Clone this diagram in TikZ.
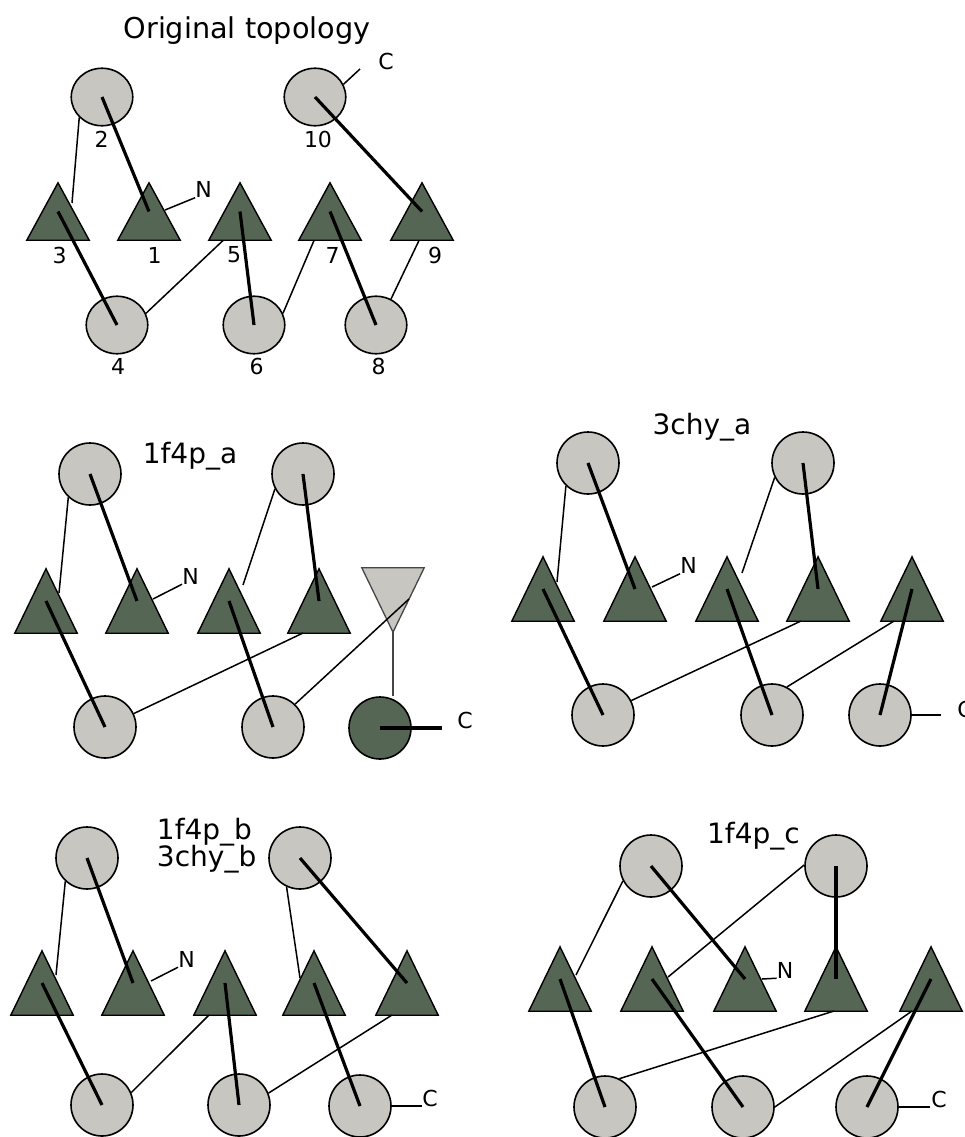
\documentclass[tikz,border=0pt]{standalone}
\usepackage{fontspec}
\setmainfont{DejaVu Sans}
\usetikzlibrary{shapes.geometric,calc}
\definecolor{tgreen}{RGB}{85,102,84}
\definecolor{cgray}{RGB}{200,198,192}
\definecolor{dgray}{RGB}{70,70,70}
\begin{document}
\begin{tikzpicture}[x=1pt,y=-1pt,
  cir/.style={circle,draw=black,fill=cgray,line width=1.6,minimum size=62,inner sep=0},
  ecir/.style={ellipse,draw=black,fill=cgray,line width=1.6,minimum width=61.5,minimum height=57.5,inner sep=0},
  dcir/.style={cir,fill=tgreen},
  tbox/.style={rectangle,draw=none,minimum width=62,minimum height=64,inner sep=0},
  tboxs/.style={tbox,minimum height=57},
  trifill/.style={fill=tgreen,draw=black,line width=1.4,line join=miter},
  invfill/.style={fill=cgray,draw=dgray,line width=1.3,line join=miter},
  thk/.style={line width=3.2},
  thn/.style={line width=1.5},
  lbl/.style={font=\fontsize{22}{26}\selectfont,inner sep=0},
  ttl/.style={font=\fontsize{28}{33}\selectfont,inner sep=0},
]
\useasboundingbox (0,0) rectangle (964,1137);
\clip (0,0) rectangle (964,1137);

% ================= Panel 1: Original topology =================
\node[ttl,anchor=base,font=\fontsize{28.7}{33}\selectfont] (title1) at (247,38.5) {Original topology};
\node[ecir] (e2) at (102,97) {};
\node[ecir] (e10) at (315,97) {};
\node[ecir] (e4) at (117,325) {};
\node[ecir] (e6) at (254,325) {};
\node[ecir] (e8) at (376,325) {};
\node[tboxs] (tA3) at (58,211.5) {};
\node[tboxs] (tA1) at (149,211.5) {};
\node[tboxs] (tA5) at (240,211.5) {};
\node[tboxs] (tA7) at (330,211.5) {};
\node[tboxs] (tA9) at (422,211.5) {};
\node[lbl] (l2) at (101.5,139.5) {2};
\node[lbl] (l10) at (318,139.5) {10};
\node[lbl] (l3) at (59.5,255) {3};
\node[lbl] (l1) at (154.5,255) {1};
\node[lbl] (l5) at (234,255) {5};
\node[lbl] (l7) at (332.5,255) {7};
\node[lbl] (l9) at (435,255) {9};
\node[lbl] (l4) at (118,366) {4};
\node[lbl] (l6) at (256.5,366) {6};
\node[lbl] (l8) at (378.5,366) {8};
\node[lbl] (n1) at (203.5,189.5) {N};
\node[lbl] (c1) at (386,61) {C};
\coordinate (cend1) at (360,69);

% ================= Panel 2: 1f4p_a =================
\node[ttl,anchor=base] (title2) at (190,463) {1f4p\_a};
\node[cir] (cA2) at (90,474) {};
\node[cir] (cB2) at (303,474) {};
\node[cir] (dA2) at (105,727) {};
\node[cir] (dB2) at (273,727) {};
\node[dcir] (dC2) at (380,728) {};
\node[tbox] (t21) at (46,601) {};
\node[tbox] (t22) at (137,601) {};
\node[tbox] (t23) at (229,601) {};
\node[tbox] (t24) at (319,601) {};
\node[tbox] (inv) at (393,600) {};
\node[lbl] (n2) at (190.5,576) {N};
\node[lbl] (c2) at (465,720) {C};
\coordinate (cend2) at (442,728);

% ================= Panel 3: 3chy_a =================
\node[ttl,anchor=base] (title3) at (702,434) {3chy\_a};
\node[cir] (cA3) at (588,463) {};
\node[cir] (cB3) at (803,463) {};
\node[cir] (dA3) at (603,715) {};
\node[cir] (dB3) at (772,715) {};
\node[cir] (dC3) at (880,715) {};
\node[tbox] (t31) at (543,589) {};
\node[tbox] (t32) at (635,589) {};
\node[tbox] (t33) at (727,589) {};
\node[tbox] (t34) at (818,589) {};
\node[tbox] (t35) at (912,589) {};
\node[lbl] (n3) at (688.5,565.5) {N};
\node[lbl] (c3) at (965,709) {C};
\coordinate (cend3) at (941,715);

% ================= Panel 4: 1f4p_b / 3chy_b =================
\node[ttl,anchor=base] (title4a) at (204.5,839.5) {1f4p\_b};
\node[ttl,anchor=base west] (title4b) at (title4a.base west |- 0,866.5) {3chy\_b};
\node[cir] (cA4) at (87,858) {};
\node[cir] (cB4) at (300,858) {};
\node[cir] (dA4) at (102,1105) {};
\node[cir] (dB4) at (239,1105) {};
\node[cir] (dC4) at (360,1106) {};
\node[tbox] (t41) at (42,983) {};
\node[tbox] (t42) at (133,983) {};
\node[tbox] (t43) at (225,983) {};
\node[tbox] (t44) at (314,983) {};
\node[tbox] (t45) at (407,983) {};
\node[lbl] (n4) at (186.5,959) {N};
\node[lbl] (c4) at (430,1098) {C};
\coordinate (cend4) at (422,1106);

% ================= Panel 5: 1f4p_c =================
\node[ttl,anchor=base] (title5) at (753.5,843) {1f4p\_c};
\node[cir] (cA5) at (651,866) {};
\node[cir] (cB5) at (836,866) {};
\node[cir] (dA5) at (605,1107) {};
\node[cir] (dB5) at (743,1107) {};
\node[cir] (dC5) at (867,1107) {};
\node[tbox] (t51) at (560,979) {};
\node[tbox] (t52) at (652,979) {};
\node[tbox] (t53) at (745,979) {};
\node[tbox] (t54) at (836,979) {};
\node[tbox] (t55) at (931,979) {};
\node[lbl] (n5) at (785,970) {N};
\node[lbl] (c5) at (939,1099) {C};
\coordinate (cend5) at (930,1107);

% ================= triangles =================
\foreach \t in {tA3,tA1,tA5,tA7,tA9,t21,t22,t23,t24,t31,t32,t33,t34,t35,t41,t42,t43,t44,t45,t51,t52,t53,t54,t55}
  \filldraw[trifill] (\t.south west) -- (\t.north) -- (\t.south east) -- cycle;
\filldraw[invfill] (inv.north west) -- (inv.north east) -- (inv.south) -- cycle;

% ================= connectors panel 1 =================
\draw[thk] (e2.center) -- (tA1.center);
\draw[thk] (e10.center) -- (tA9.center);
\draw[thk] (tA3.center) -- (e4.center);
\draw[thk] (tA5.center) -- (e6.center);
\draw[thk] (tA7.center) -- (e8.center);
\draw[thn] (e2.222.5) -- ($(tA3)+(14,-8.5)$);
\draw[thn] (e4.22.8) -- ($(tA5)+(-17,29)$);
\draw[thn] (e6.22.8) -- ($(tA7)+(-16,29)$);
\draw[thn] (e8.60) -- ($(tA9)+(-3,29)$);
\draw[thn] ($(tA1)+(16,-1.5)$) -- (n1.south west);
\draw[thn] (e10.24) -- (cend1);

% ================= connectors panel 2 =================
\draw[thk] (cA2.center) -- (t22.center);
\draw[thk] (cB2.center) -- (t24.center);
\draw[thk] (t21.center) -- (dA2.center);
\draw[thk] (t23.center) -- (dB2.center);
\draw[thk] (dC2.center) -- (cend2);
\draw[thn] (cA2.227.5) -- ($(t21)+(13,-8)$);
\draw[thn] (cB2.208) -- ($(t23)+(14,-16)$);
\draw[thn] ($(t24)+(-16,32)$) -- (dA2.25.8);
\draw[thn] ($(inv)+(16,-1)$) -- (dB2.46);
\draw[line width=1.6,draw=dgray] (inv.south) -- (inv.south |- dC2.north);
\draw[thn] ($(t22)+(16,-2)$) -- (n2.south west);

% ================= connectors panel 3 =================
\draw[thk] (cA3.center) -- (t32.center);
\draw[thk] (cB3.center) -- (t34.center);
\draw[thk] (t31.center) -- (dA3.center);
\draw[thk] (t33.center) -- (dB3.center);
\draw[thk] (t35.center) -- (dC3.center);
\draw[thn] (cA3.226.2) -- ($(t31)+(14,-7)$);
\draw[thn] (cB3.207.3) -- ($(t33)+(15,-16)$);
\draw[thn] ($(t34)+(-17,32)$) -- (dA3.27.3);
\draw[thn] ($(t35)+(-18,32)$) -- (dB3.62.7);
\draw[thn] (dC3.east) -- (cend3);
\draw[thn] ($(t32)+(17,-2)$) -- (n3.south west);

% ================= connectors panel 4 =================
\draw[thk] (cA4.center) -- (t42.center);
\draw[thk] (cB4.center) -- (t45.center);
\draw[thk] (t41.center) -- (dA4.center);
\draw[thk] (t43.center) -- (dB4.center);
\draw[thk] (t44.center) -- (dC4.center);
\draw[thn] (cA4.227.4) -- ($(t41)+(14,-8)$);
\draw[thn] (cB4.245.7) -- ($(t44)+(-14,-5)$);
\draw[thn] ($(t43)+(-16,32)$) -- (dA4.23.6);
\draw[thn] ($(t45)+(-15,32)$) -- (dB4.22.1);
\draw[thn] (dC4.east) -- (cend4);
\draw[thn] ($(t42)+(18,-2)$) -- (n4.south west);

% ================= connectors panel 5 =================
\draw[thk] (cA5.center) -- (t53.center);
\draw[thk] (cB5.center) -- (t54.center);
\draw[thk] (t51.center) -- (dA5.center);
\draw[thk] (t52.center) -- (dB5.center);
\draw[thk] (t55.center) -- (dC5.center);
\draw[thn] (cA5.208.7) -- ($(t51)+(16,-4)$);
\draw[thn] (cB5.178) -- ($(t52)+(16,-2)$);
\draw[thn] ($(t54)+(-2,32)$) -- (dA5.63.4);
\draw[thn] ($(t55)+(-19,32)$) -- (dB5.east);
\draw[thn] (dC5.east) -- (cend5);
\draw[thn] ($(t53)+(17,0)$) -- (n5.south west);
\end{tikzpicture}
\end{document}
